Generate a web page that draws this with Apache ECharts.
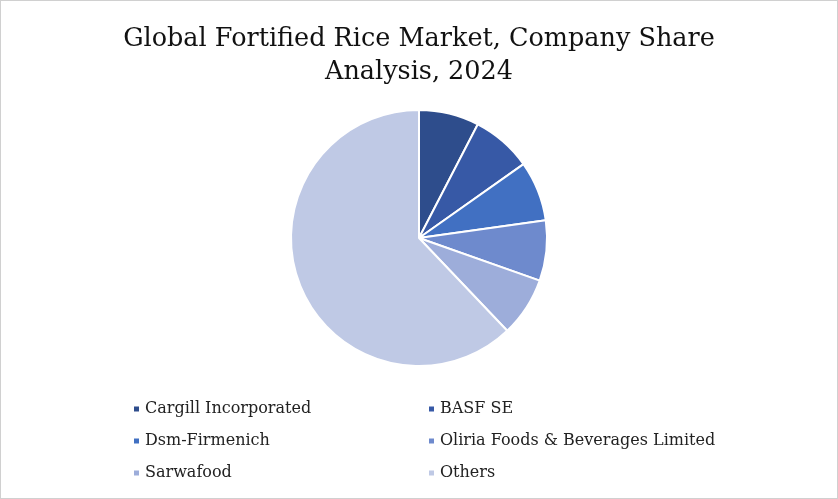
<!DOCTYPE html>
<html><head><meta charset="utf-8">
<script src="https://cdn.jsdelivr.net/npm/echarts@6/dist/echarts.min.js"></script>
<style>html,body{margin:0;padding:0;background:#fff}#c{width:836px;height:497px;border:1px solid #d0d0d0}</style>
</head><body><div id="c"></div>
<script>
const companies = ["Cargill Incorporated","BASF SE","Dsm-Firmenich","Oliria Foods & Beverages Limited","Sarwafood","Others"];
const shares = [7.6,7.6,7.6,7.6,7.5,62.1];
const colors = ["#2E4D8C","#3759A6","#4170C2","#6E8ACD","#9DADDA","#BFC9E5"];
const chart = echarts.init(document.getElementById('c'));
const font = "DejaVu Serif";
const legendBase = {orient:'vertical',itemWidth:7,itemHeight:7,icon:'rect',itemGap:16,
  textStyle:{fontFamily:font,fontSize:16,color:'#222'}};
chart.setOption({
  title:{text:"Global Fortified Rice Market, Company Share\nAnalysis, 2024",left:'center',top:17,
    textStyle:{fontFamily:font,fontSize:25.5,fontWeight:'normal',color:'#111',lineHeight:33}},
  color:colors,
  legend:[
    Object.assign({left:126,top:395,data:[companies[0],companies[2],companies[4]]},legendBase),
    Object.assign({left:421,top:395,data:[companies[1],companies[3],companies[5]]},legendBase)
  ],
  series:[{type:'pie',center:[418,237],radius:[0,128],startAngle:90,clockwise:true,
    label:{show:false},labelLine:{show:false},
    itemStyle:{borderColor:'#fff',borderWidth:2},
    data:companies.map((n,i)=>({name:n,value:shares[i]}))}]
});
</script></body></html>
